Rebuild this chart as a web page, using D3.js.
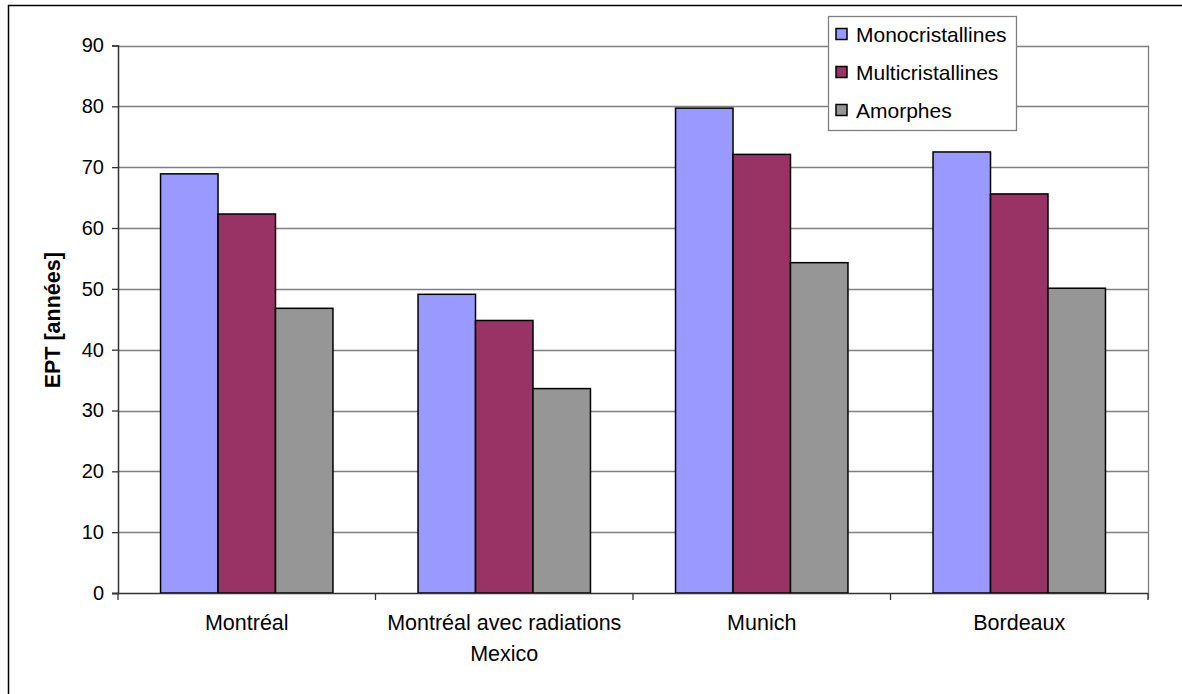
<!DOCTYPE html>
<html><head><meta charset="utf-8">
<script src="https://cdn.jsdelivr.net/npm/d3@7"></script>
<style>body{margin:0;background:#fff}svg{display:block}text{font-family:Arial,"Liberation Sans",sans-serif}</style>
</head><body>
<svg id="c" width="1182" height="694"></svg>
<script>
const categories = [["Montréal"], ["Montréal avec radiations", "Mexico"], ["Munich"], ["Bordeaux"]];
const seriesNames = ["Monocristallines", "Multicristallines", "Amorphes"];
const mono = [68.9, 49.1, 79.7, 72.5];
const multi = [62.3, 44.8, 72.1, 65.6];
const amorph = [46.8, 33.6, 54.3, 50.1];
const yTicks = [0, 10, 20, 30, 40, 50, 60, 70, 80, 90];
const colors = ["#9999FF", "#993366", "#969696"];
const series = [mono, multi, amorph];

const svg = d3.select("#c");
const L = 118, R = 1148, T = 45.5, B = 593;

// outer frame
svg.append("rect").attr("x", 8.5).attr("y", 5.5).attr("width", 1200).attr("height", 700)
  .attr("fill", "#fff").attr("stroke", "#000").attr("stroke-width", 1.5);

const x0 = d3.scaleBand().domain(d3.range(categories.length)).range([L, R]).paddingInner(0).paddingOuter(0);
const x1 = d3.scaleBand().domain(d3.range(3)).range([0, x0.bandwidth()]).paddingOuter(0.74).paddingInner(0);
const y = d3.scaleLinear().domain([0, 90]).range([B, T]);

// gridlines
svg.append("g").selectAll("line").data(yTicks.filter(d => d > 0)).join("line")
  .attr("x1", L).attr("x2", R).attr("y1", d => Math.round(y(d)) + 0.5).attr("y2", d => Math.round(y(d)) + 0.5)
  .attr("stroke", "#808080").attr("stroke-width", 1.3);
// right border of plot
svg.append("line").attr("x1", R + 0.5).attr("x2", R + 0.5).attr("y1", y(90)).attr("y2", B + 6)
  .attr("stroke", "#808080").attr("stroke-width", 1.3);

// bars
const g = svg.append("g");
categories.forEach((c, i) => {
  series.forEach((s, j) => {
    g.append("rect")
      .attr("x", x0(i) + x1(j)).attr("width", x1.bandwidth())
      .attr("y", y(s[i])).attr("height", B - y(s[i]))
      .attr("fill", colors[j]).attr("stroke", "#000").attr("stroke-width", 1.5);
  });
});

// y axis
const yAxis = d3.axisLeft(y).tickValues(yTicks).tickSize(6).tickPadding(8);
const ya = svg.append("g").attr("transform", `translate(${L},0)`).call(yAxis);
ya.select(".domain").attr("stroke", "#333").attr("stroke-width", 1.5);
ya.selectAll(".tick line").attr("stroke", "#333").attr("stroke-width", 1.3);
ya.selectAll(".tick text").attr("font-size", 20).attr("fill", "#000").attr("font-family", "Arial, 'Liberation Sans', sans-serif");

// x axis
const xa = svg.append("g").attr("transform", `translate(0,${B})`);
xa.append("line").attr("x1", L - 6).attr("x2", R).attr("y1", 0.5).attr("y2", 0.5).attr("stroke", "#333").attr("stroke-width", 1.6);
const bounds = d3.range(categories.length + 1).map(i => L + i * x0.bandwidth());
xa.selectAll("line.t").data(bounds).join("line").attr("class", "t")
  .attr("x1", d => d).attr("x2", d => d).attr("y1", 0).attr("y2", 7).attr("stroke", "#333").attr("stroke-width", 1.3);
categories.forEach((lines, i) => {
  const t = xa.append("text").attr("text-anchor", "middle").attr("font-size", 21.5)
    .attr("x", x0(i) + x0.bandwidth() / 2).attr("y", 37);
  lines.forEach((ln, k) => t.append("tspan").attr("x", x0(i) + x0.bandwidth() / 2).attr("dy", k === 0 ? 0 : 31).text(ln));
});

// y label
svg.append("text").attr("transform", `translate(60,${(T + B) / 2 + 1}) rotate(-90)`)
  .attr("text-anchor", "middle").attr("font-size", 21.5).attr("font-weight", "bold").text("EPT [années]");

// legend
const lg = svg.append("g");
lg.append("rect").attr("x", 828.5).attr("y", 16.5).attr("width", 188).attr("height", 114)
  .attr("fill", "#fff").attr("stroke", "#808080").attr("stroke-width", 1.3);
seriesNames.forEach((n, j) => {
  const cy = 34 + j * 38;
  lg.append("rect").attr("x", 836).attr("y", cy - 5.5).attr("width", 11).attr("height", 11)
    .attr("fill", colors[j]).attr("stroke", "#000").attr("stroke-width", 1.5);
  lg.append("text").attr("x", 856).attr("y", cy + 7.5).attr("font-size", 21).text(n);
});
</script>
</body></html>
